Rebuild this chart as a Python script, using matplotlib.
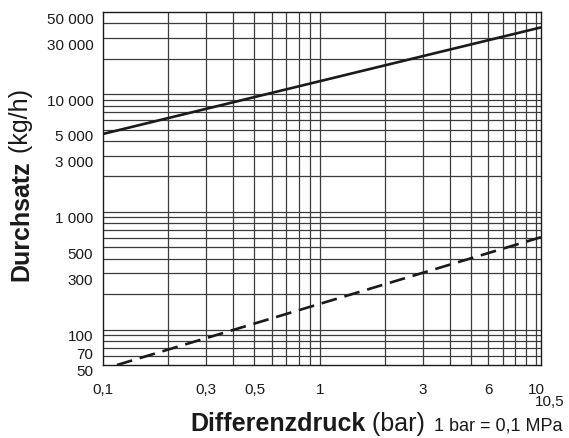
import matplotlib
matplotlib.use("Agg")
import matplotlib.pyplot as plt
from matplotlib.ticker import FixedLocator, NullLocator
from matplotlib.transforms import ScaledTranslation

plt.rcParams['font.family'] = ['Liberation Sans', 'DejaVu Sans']

# data (bar, kg/h)
dp_solid = [0.1, 10.5]
flow_solid = [4600, 37000]
dp_dashed = [0.116, 10.5]
flow_dashed = [50, 610]

xtick_vals = [0.1, 0.3, 0.5, 1, 3, 6, 10]
xtick_labels = ['0,1', '0,3', '0,5', '1', '3', '6', '10']
ytick_vals = [50, 70, 100, 300, 500, 1000, 3000, 5000, 10000, 30000, 50000]
ytick_labels = ['50', '70', '100', '300', '500', '1 000', '3 000', '5 000',
                '10 000', '30 000', '50 000']

fig = plt.figure(figsize=(5.69, 4.39), dpi=100)
ax = fig.add_axes([103/569, 73/439, 438/569, 353/439])
ax.set_xscale('log')
ax.set_yscale('log')
ax.set_xlim(0.1, 10.5)
ax.set_ylim(50, 50000)

# grid: every 1..9 x decade
xg = [m * 10.0**e for e in (-1, 0, 1) for m in range(1, 10)]
xg = [v for v in xg if 0.1 < v < 10.5]
yg = [m * 10.0**e for e in (1, 2, 3, 4) for m in range(1, 10)]
yg = [v for v in yg if 50 < v < 50000]
for v in xg:
    ax.axvline(v, color='#3c3c3c', lw=0.9, zorder=1)
for v in yg:
    ax.axhline(v, color='#3c3c3c', lw=0.9, zorder=1)

ax.plot(dp_solid, flow_solid, color='#1a1a1a', lw=1.9, zorder=3,
        solid_capstyle='butt')
ax.plot(dp_dashed, flow_dashed, color='#1a1a1a', lw=1.9, zorder=3,
        dashes=(6, 3))

ax.xaxis.set_major_locator(FixedLocator(xtick_vals))
ax.set_xticklabels(xtick_labels)
ax.xaxis.set_minor_locator(NullLocator())
ax.yaxis.set_major_locator(FixedLocator(ytick_vals))
ax.set_yticklabels(ytick_labels)
ax.yaxis.set_minor_locator(NullLocator())
ax.tick_params(axis='both', length=0, labelsize=11, colors='#1a1a1a')
ax.tick_params(axis='x', pad=12)
ax.tick_params(axis='y', pad=7)

# y labels sit a few pixels below their grid line in the original
shift = ScaledTranslation(0, -5/100, fig.dpi_scale_trans)
for t in ax.yaxis.get_major_ticks():
    t.label1.set_transform(t.label1.get_transform() + shift)

for s in ax.spines.values():
    s.set_color('#1a1a1a')
    s.set_linewidth(1.0)

ax.annotate('10,5', xy=(10.5, 0), xycoords=('data', 'axes fraction'),
            xytext=(9, -36), textcoords='offset pixels',
            ha='center', va='center', fontsize=11, color='#1a1a1a')

# axis labels: bold word + regular unit
xl = fig.text(190/569, 1 - 424/439, 'Differenzdruck', fontsize=18,
              fontweight='bold', ha='left', va='center', color='#1a1a1a')
ax.annotate(' (bar)', xy=(1, 0), xycoords=xl, ha='left', va='bottom',
            fontsize=18, color='#1a1a1a')
yl = fig.text(21/569, 1 - 281/439, 'Durchsatz', fontsize=18,
              fontweight='bold', rotation=90, ha='center', va='bottom',
              color='#1a1a1a')
ax.annotate(' (kg/h)', xy=(0, 1), xycoords=yl, ha='left', va='bottom',
            rotation=90, fontsize=18, color='#1a1a1a')

fig.text(563/569, 1 - 426/439, '1 bar = 0,1 MPa', fontsize=13,
         ha='right', va='center', color='#1a1a1a')

fig.savefig('out.png', dpi=100)
